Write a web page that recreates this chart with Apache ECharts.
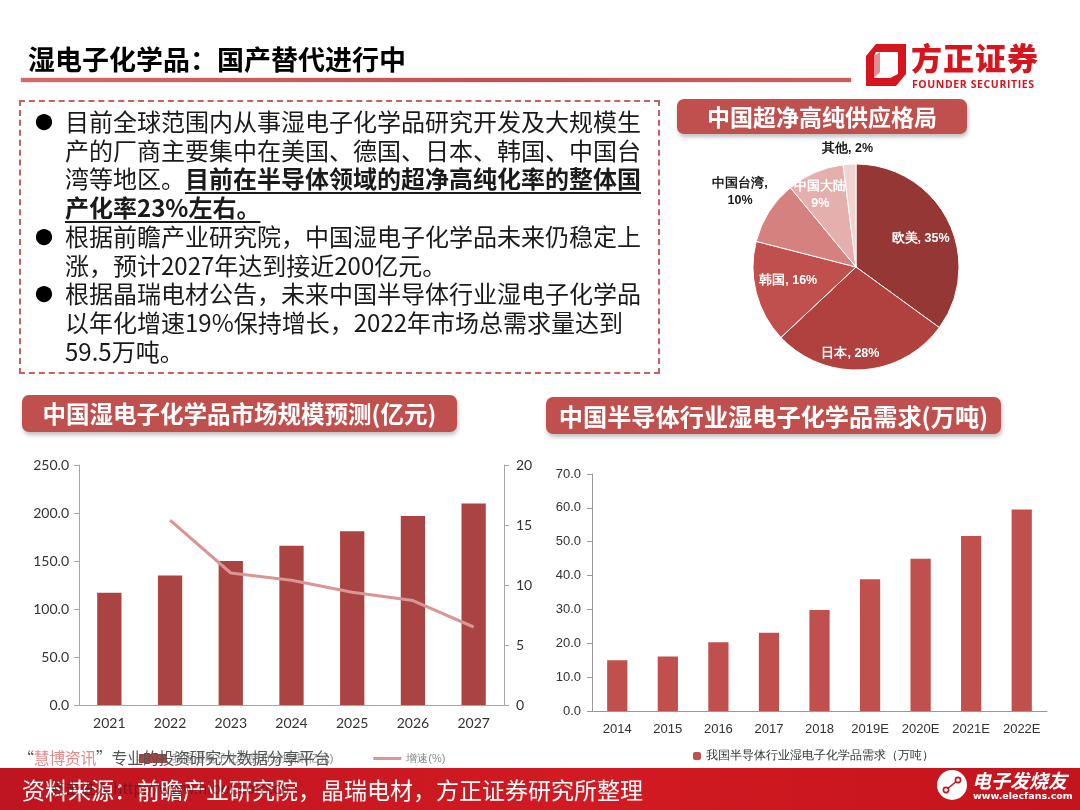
<!DOCTYPE html>
<html lang="zh">
<head>
  <meta charset="UTF-8">
  <title>湿电子化学品：国产替代进行中</title>
  <script src="https://cdn.jsdelivr.net/npm/echarts@6/dist/echarts.min.js"></script>
  <style>
    html, body {
      margin: 0;
      padding: 0;
      width: 1080px;
      height: 810px;
      overflow: hidden;
      background: #fff;
      font-family: "Noto Sans CJK SC", sans-serif;
    }
    #chart {
      position: absolute;
      left: 0;
      top: 0;
      width: 1080px;
      height: 810px;
    }
    .abs { position: absolute; white-space: nowrap; }
    .title {
      left: 28px; top: 42px;
      font-size: 27px; font-weight: bold; color: #000; line-height: 34px;
    }
    .rule {
      left: 21px; top: 78px; width: 830px; height: 4px;
      background: linear-gradient(to right, #d56a68, #c0504d 60%, #c9605d);
      box-shadow: 0 0 2px #e6a3a2;
    }
    .brand {
      left: 911px; top: 39px;
      font-size: 31px; font-weight: 900; color: #d7151f; line-height: 36px; letter-spacing: 1px;
    }
    .brand-en {
      left: 912px; top: 77px;
      font-family: "Open Sans", sans-serif;
      font-size: 10.5px; font-weight: bold; color: #d7151f; letter-spacing: 0.6px;
    }
    .box {
      left: 19px; top: 100px; width: 637px; height: 270px;
      border: 2px dashed #c8605e;
    }
    .bullets {
      left: 65px; top: 107px;
      font-size: 24px; line-height: 28.7px; color: #1a1a1a;
    }
    .bullets div { position: relative; }
    .bullets div::before {
      content: "●"; position: absolute; left: -30px; top: 0; font-size: 18px; color: #000;
    }
    .bullets b { font-weight: bold; text-decoration: underline; text-underline-offset: 4px; }
    .tag {
      background: #c0504d; color: #fff; font-weight: bold;
      border-radius: 7px; box-shadow: 1px 3px 4px rgba(0,0,0,0.25);
      text-align: center;
    }
    .footer {
      left: 0; top: 768px; width: 1080px; height: 42px;
      background: linear-gradient(to right, #bf1520, #d21a22 55%, #c4141d);
    }
    .footer-text {
      left: 22px; top: 771px; font-size: 23px; line-height: 36px; color: #fff;
    }
    .wm {
      left: 18px; top: 745px; font-size: 16px; color: #555; letter-spacing: -0.4px;
    }
    .wm span { color: #e58a8a; }
    .wm2 {
      left: 50px; top: 777px; font-size: 15px; color: rgba(60,30,30,0.55);
    }
    .ef-cn {
      left: 972px; top: 768px; font-size: 19px; font-weight: bold; font-style: italic; color: #fff; line-height: 24px;
    }
    .ef-en {
      left: 973px; top: 790px; font-family: "DejaVu Sans", sans-serif; font-size: 9.5px; font-weight: bold; color: #fff;
    }
  </style>
</head>
<body>
  <div id="chart"></div>

  <div class="abs title">湿电子化学品：国产替代进行中</div>
  <div class="abs rule"></div>
  <svg class="abs" style="left:864px;top:42px" width="44" height="46" viewBox="0 0 44 46">
    <polygon points="12,2 42,2 42,32 32,44 2,44 2,14" fill="#d7151f"/>
    <polygon points="12,10 34,10 34,32 26,36 10,36 10,14" fill="#fff"/>
    <polygon points="10,14 16,10 16,30 10,36" fill="#e98a8f"/>
  </svg>
  <div class="abs brand">方正证券</div>
  <div class="abs brand-en">FOUNDER SECURITIES</div>

  <div class="abs box"></div>
  <div class="abs bullets">
    <div>目前全球范围内从事湿电子化学品研究开发及大规模生<br>产的厂商主要集中在美国、德国、日本、韩国、中国台<br>湾等地区。<b>目前在半导体领域的超净高纯化率的整体国<br>产化率23%左右。</b></div>
    <div>根据前瞻产业研究院，中国湿电子化学品未来仍稳定上<br>涨，预计2027年达到接近200亿元。</div>
    <div>根据晶瑞电材公告，未来中国半导体行业湿电子化学品<br>以年化增速19%保持增长，2022年市场总需求量达到<br>59.5万吨。</div>
  </div>

  <div class="abs tag" style="left:677px;top:99px;width:290px;height:35px;line-height:35px;font-size:23px;">中国超净高纯供应格局</div>
  <div class="abs tag" style="left:22px;top:395px;width:435px;height:37px;line-height:37px;font-size:23.5px;">中国湿电子化学品市场规模预测(亿元)</div>
  <div class="abs tag" style="left:546px;top:397px;width:455px;height:37px;line-height:37px;font-size:24.2px;">中国半导体行业湿电子化学品需求(万吨)</div>

  <div class="abs footer"></div>
  <div class="abs footer-text">资料来源：前瞻产业研究院，晶瑞电材，方正证券研究所整理</div>
  <div class="abs wm">“<span>慧博资讯</span>”专业的投资研究大数据分享平台</div>
  <div class="abs wm2">点击进入 http://www.hibor.com.cn</div>
  <svg class="abs" style="left:937px;top:770px" width="30" height="30" viewBox="0 0 30 30">
    <circle cx="15" cy="15" r="15" fill="#fff"/>
    <line x1="9" y1="20" x2="21" y2="10" stroke="#c8141c" stroke-width="1.6"/>
    <circle cx="9" cy="20" r="2.6" fill="#fff" stroke="#c8141c" stroke-width="1.6"/>
    <circle cx="21" cy="10" r="2.6" fill="#fff" stroke="#c8141c" stroke-width="1.6"/>
  </svg>
  <div class="abs ef-cn">电子发烧友</div>
  <div class="abs ef-en">www.elecfans.com</div>

  <script>
    // market size forecast (亿元) and growth (%)
    const years = ['2021', '2022', '2023', '2024', '2025', '2026', '2027']
    const marketSize = [117, 135, 150, 166, 181, 197, 210]
    const growthRate = [null, 15.4, 11.0, 10.4, 9.4, 8.7, 6.5]

    // semiconductor wet chemicals demand (万吨)
    const demandYears = ['2014', '2015', '2016', '2017', '2018', '2019E', '2020E', '2021E', '2022E']
    const demand = [15.0, 16.1, 20.3, 23.1, 29.8, 38.9, 45.0, 51.7, 59.5]

    // ultra-pure supply share (%)
    const regions = ['欧美', '日本', '韩国', '中国台湾', '中国大陆', '其他']
    const shares = [35, 28, 16, 10, 9, 2]

    const pieColors = ['#953735', '#b0413e', '#c0504d', '#d4817f', '#e4afad', '#f1d3d2']
    const labelShift = [[16, -4], [-9, 32], [-15, 0], [-70, -46], [-14, -22], [-5, -64]]
    const outside = ['中国台湾', '其他']

    const axisGrey = '#a6a6a6'
    const chart = echarts.init(document.getElementById('chart'))

    chart.setOption({
      animation: false,
      grid: [
        { left: 79, top: 465, width: 425, height: 240 },
        { left: 592, top: 474, width: 455, height: 237 }
      ],
      legend: [
        {
          data: [
            { name: '我国湿电子化学品市场规模(亿元)', icon: 'rect' },
            { name: '增速(%)', icon: 'path://M0,0 L28,0 L28,3 L0,3 Z' }
          ],
          left: 134, top: 748,
          itemWidth: 28, itemHeight: 9, itemGap: 40,
          textStyle: { fontSize: 11, color: '#888' }
        },
        {
          data: ['我国半导体行业湿电子化学品需求（万吨）'],
          left: 688, top: 745,
          itemWidth: 8, itemHeight: 8,
          textStyle: { fontSize: 12, color: '#333' }
        }
      ],
      xAxis: [
        {
          type: 'category', gridIndex: 0, data: years,
          axisLine: { lineStyle: { color: axisGrey } },
          axisTick: { length: 5, lineStyle: { color: axisGrey } },
          axisLabel: { color: '#333', fontSize: 14, fontFamily: 'Lato', margin: 11 }
        },
        {
          type: 'category', gridIndex: 1, data: demandYears,
          axisLine: { lineStyle: { color: '#999' } },
          axisTick: { length: 5, lineStyle: { color: '#999' } },
          axisLabel: { color: '#333', fontSize: 13, fontFamily: 'Liberation Sans', margin: 12 }
        }
      ],
      yAxis: [
        {
          type: 'value', gridIndex: 0, min: 0, max: 250, interval: 50,
          axisLine: { show: true, lineStyle: { color: axisGrey } },
          axisTick: { show: true, length: 5, lineStyle: { color: axisGrey } },
          splitLine: { show: false },
          axisLabel: { color: '#333', fontSize: 14, fontFamily: 'Lato', margin: 10, formatter: v => v.toFixed(1) }
        },
        {
          type: 'value', gridIndex: 0, position: 'right', min: 0, max: 20, interval: 5,
          axisLine: { show: true, lineStyle: { color: axisGrey } },
          axisTick: { show: true, length: 5, lineStyle: { color: axisGrey } },
          splitLine: { show: false },
          axisLabel: { color: '#333', fontSize: 14, fontFamily: 'Lato', margin: 12 }
        },
        {
          type: 'value', gridIndex: 1, min: 0, max: 70, interval: 10,
          axisLine: { show: true, lineStyle: { color: '#999' } },
          axisTick: { show: true, length: 5, lineStyle: { color: '#999' } },
          splitLine: { show: false },
          axisLabel: { color: '#333', fontSize: 13, fontFamily: 'Liberation Sans', margin: 11, formatter: v => v.toFixed(1) }
        }
      ],
      series: [
        {
          name: '我国湿电子化学品市场规模(亿元)',
          type: 'bar', xAxisIndex: 0, yAxisIndex: 0,
          barWidth: '40%',
          itemStyle: { color: '#aa4442' },
          data: marketSize
        },
        {
          name: '增速(%)',
          type: 'line', xAxisIndex: 0, yAxisIndex: 1,
          symbol: 'none',
          lineStyle: { color: '#d99694', width: 3 },
          itemStyle: { color: '#d99694' },
          data: growthRate
        },
        {
          name: '我国半导体行业湿电子化学品需求（万吨）',
          type: 'bar', xAxisIndex: 1, yAxisIndex: 2,
          barWidth: '40%',
          itemStyle: { color: '#c0504d' },
          data: demand
        },
        {
          type: 'pie',
          center: [856, 267],
          radius: 103,
          startAngle: 90,
          avoidLabelOverlap: false,
          itemStyle: { borderColor: '#fff', borderWidth: 1 },
          label: {
            position: 'inside',
            fontSize: 12.5,
            fontWeight: 'bold',
            fontFamily: 'Liberation Sans',
            lineHeight: 17,
            align: 'center',
            formatter: p => {
              if (p.name === '中国大陆') return p.name + '\n' + p.value + '%'
              if (p.name === '中国台湾') return p.name + ',\n' + p.value + '%'
              return p.name + ', ' + p.value + '%'
            }
          },
          labelLine: { show: false },
          labelLayout: p => ({ dx: labelShift[p.dataIndex][0], dy: labelShift[p.dataIndex][1] }),
          data: regions.map((name, i) => ({
            name,
            value: shares[i],
            itemStyle: { color: pieColors[i] },
            label: { color: outside.includes(name) ? '#1a1a1a' : '#fff' }
          }))
        }
      ]
    })
  </script>
</body>
</html>
